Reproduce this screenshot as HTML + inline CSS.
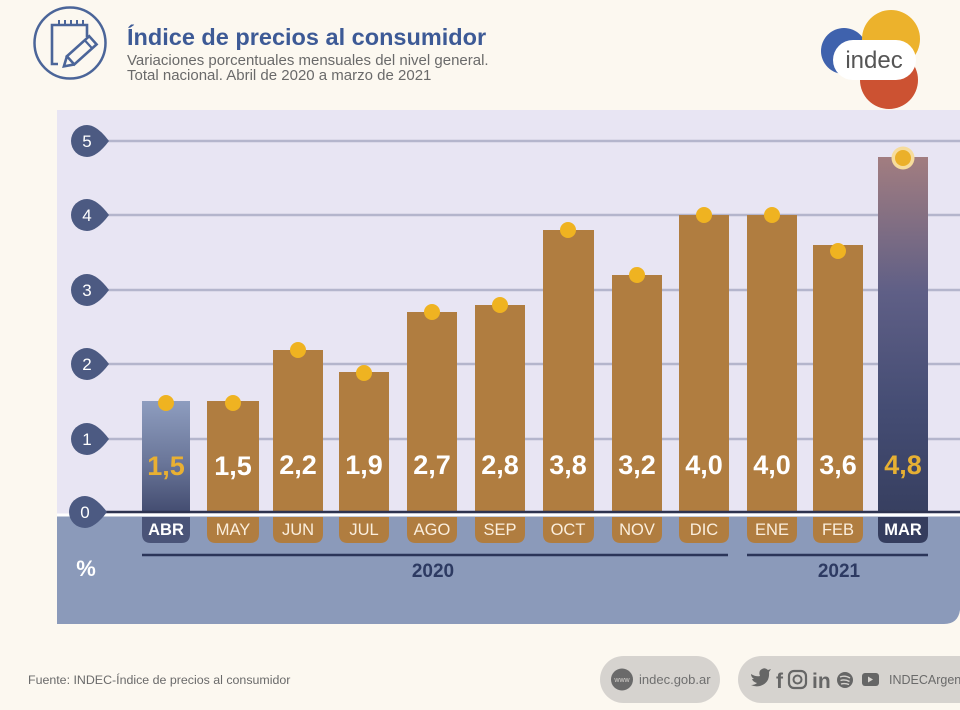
<!DOCTYPE html>
<html><head><meta charset="utf-8">
<style>
html,body{margin:0;padding:0;background:#fcf8f0;}
svg{display:block;}
text{font-family:"Liberation Sans",Arial,sans-serif;}
</style></head>
<body>
<svg width="960" height="710" viewBox="0 0 960 710" xmlns="http://www.w3.org/2000/svg">
<defs>
<linearGradient id="gAbr" x1="0" y1="0" x2="0" y2="1">
<stop offset="0" stop-color="#8e9dbf"/>
<stop offset="0.55" stop-color="#6a7699"/>
<stop offset="1" stop-color="#434c70"/>
</linearGradient>
<linearGradient id="gMar" x1="0" y1="0" x2="0" y2="1">
<stop offset="0" stop-color="#a27d80"/>
<stop offset="0.38" stop-color="#5f5f86"/>
<stop offset="0.7" stop-color="#454d74"/>
<stop offset="1" stop-color="#373f60"/>
</linearGradient>
</defs>
<rect width="960" height="710" fill="#fcf8f0"/>

<!-- header icon -->
<circle cx="70" cy="43" r="35.5" fill="none" stroke="#4b6599" stroke-width="2.5"/>
<path d="M58 64 L52 64 L52 25 L87 25 L87 37" fill="none" stroke="#4b6599" stroke-width="2.6"/>
<g stroke="#4b6599" stroke-width="2">
<line x1="59" y1="20" x2="59" y2="26"/><line x1="65" y1="20" x2="65" y2="26"/><line x1="71" y1="20" x2="71" y2="26"/><line x1="77" y1="20" x2="77" y2="26"/><line x1="83" y1="20" x2="83" y2="26"/>
</g>
<g transform="translate(81,51) rotate(-42)">
<rect x="-14" y="-5.5" width="30" height="11" fill="none" stroke="#4b6599" stroke-width="2.6"/>
<path d="M-14 -5.5 L-23 0 L-14 5.5" fill="none" stroke="#4b6599" stroke-width="2.6"/>
<line x1="10" y1="-5.5" x2="10" y2="5.5" stroke="#4b6599" stroke-width="2.2"/>
</g>

<text x="127" y="45" font-size="23.5" font-weight="bold" fill="#3d5a96">Índice de precios al consumidor</text>
<text x="127" y="65" font-size="15" fill="#6a6a6a">Variaciones porcentuales mensuales del nivel general.</text>
<text x="127" y="80" font-size="15" fill="#6a6a6a">Total nacional. Abril de 2020 a marzo de 2021</text>

<!-- logo -->
<circle cx="844" cy="51" r="23" fill="#3f62ad"/>
<circle cx="891" cy="39" r="29" fill="#ecb22c"/>
<circle cx="889" cy="80" r="29" fill="#cc5232"/>
<rect x="833" y="40" width="83" height="40" rx="20" fill="#ffffff"/>
<text x="874" y="68" font-size="24" fill="#555" text-anchor="middle">indec</text>

<!-- chart panel -->
<rect x="57" y="110" width="903" height="405" fill="#e8e5f3"/>
<path d="M57 515 L960 515 L960 610 Q958 624 944 624 L57 624 Z" fill="#8b9aba"/>

<!-- gridlines -->
<g stroke="#b4b5cc" stroke-width="2.5">
<line x1="105" y1="141" x2="960" y2="141"/>
<line x1="105" y1="215" x2="960" y2="215"/>
<line x1="105" y1="290" x2="960" y2="290"/>
<line x1="105" y1="364" x2="960" y2="364"/>
<line x1="105" y1="439" x2="960" y2="439"/>
</g>

<!-- bars -->
<g fill="#b07d40">
<rect x="142" y="401" width="48" height="112" fill="url(#gAbr)"/>
<rect x="207" y="401" width="52" height="112"/>
<rect x="273" y="350" width="50" height="163"/>
<rect x="339" y="372" width="50" height="141"/>
<rect x="407" y="312" width="50" height="201"/>
<rect x="475" y="305" width="50" height="208"/>
<rect x="543" y="230" width="51" height="283"/>
<rect x="612" y="275" width="50" height="238"/>
<rect x="679" y="215" width="50" height="298"/>
<rect x="747" y="215" width="50" height="298"/>
<rect x="813" y="245" width="50" height="268"/>
<rect x="878" y="157" width="50" height="356" fill="url(#gMar)"/>
</g>

<!-- dots -->
<g fill="#efb321">
<circle cx="166" cy="403" r="8"/>
<circle cx="233" cy="403" r="8"/>
<circle cx="298" cy="350" r="8"/>
<circle cx="364" cy="373" r="8"/>
<circle cx="432" cy="312" r="8"/>
<circle cx="500" cy="305" r="8"/>
<circle cx="568" cy="230" r="8"/>
<circle cx="637" cy="275" r="8"/>
<circle cx="704" cy="215" r="8"/>
<circle cx="772" cy="215" r="8"/>
<circle cx="838" cy="251" r="8"/>
</g>
<circle cx="903" cy="158" r="11.5" fill="#f6dc9c"/>
<circle cx="903" cy="158" r="8" fill="#ebb02a"/>

<!-- value labels -->
<g font-size="27" font-weight="bold" text-anchor="middle" fill="#ffffff">
<text x="166" y="475" fill="#e9b032">1,5</text>
<text x="233" y="475">1,5</text>
<text x="298" y="474">2,2</text>
<text x="364" y="474">1,9</text>
<text x="432" y="474">2,7</text>
<text x="500" y="474">2,8</text>
<text x="568" y="474">3,8</text>
<text x="637" y="474">3,2</text>
<text x="704" y="474">4,0</text>
<text x="772" y="474">4,0</text>
<text x="838" y="474">3,6</text>
<text x="903" y="474" fill="#e6b033">4,8</text>
</g>

<!-- zero line -->
<rect x="57" y="513.5" width="903" height="3" fill="#ffffff"/>
<line x1="100" y1="512" x2="960" y2="512" stroke="#2d3350" stroke-width="2.5"/>

<!-- month pills -->
<g fill="#b07d40">
<path d="M142 517 H190 V534 Q190 543 181 543 H151 Q142 543 142 534 Z" fill="#4a5478"/>
<path d="M207 517 H259 V534 Q259 543 250 543 H216 Q207 543 207 534 Z"/>
<path d="M273 517 H323 V534 Q323 543 314 543 H282 Q273 543 273 534 Z"/>
<path d="M339 517 H389 V534 Q389 543 380 543 H348 Q339 543 339 534 Z"/>
<path d="M407 517 H457 V534 Q457 543 448 543 H416 Q407 543 407 534 Z"/>
<path d="M475 517 H525 V534 Q525 543 516 543 H484 Q475 543 475 534 Z"/>
<path d="M543 517 H594 V534 Q594 543 585 543 H552 Q543 543 543 534 Z"/>
<path d="M612 517 H662 V534 Q662 543 653 543 H621 Q612 543 612 534 Z"/>
<path d="M679 517 H729 V534 Q729 543 720 543 H688 Q679 543 679 534 Z"/>
<path d="M747 517 H797 V534 Q797 543 788 543 H756 Q747 543 747 534 Z"/>
<path d="M813 517 H863 V534 Q863 543 854 543 H822 Q813 543 813 534 Z"/>
<path d="M878 517 H928 V534 Q928 543 919 543 H887 Q878 543 878 534 Z" fill="#353d5e"/>
</g>
<g font-size="16.5" text-anchor="middle" fill="#fbeedc">
<text x="166" y="535" font-weight="bold" fill="#ffffff">ABR</text>
<text x="233" y="535">MAY</text>
<text x="298" y="535">JUN</text>
<text x="364" y="535">JUL</text>
<text x="432" y="535">AGO</text>
<text x="500" y="535">SEP</text>
<text x="568" y="535">OCT</text>
<text x="637" y="535">NOV</text>
<text x="704" y="535">DIC</text>
<text x="772" y="535">ENE</text>
<text x="838" y="535">FEB</text>
<text x="903" y="535" font-weight="bold" fill="#ffffff">MAR</text>
</g>

<!-- year lines -->
<line x1="142" y1="555" x2="728" y2="555" stroke="#2b3559" stroke-width="2.5"/>
<line x1="747" y1="555" x2="928" y2="555" stroke="#2b3559" stroke-width="2.5"/>
<text x="433" y="577" font-size="19" font-weight="bold" fill="#2d3a62" text-anchor="middle">2020</text>
<text x="839" y="577" font-size="19" font-weight="bold" fill="#2d3a62" text-anchor="middle">2021</text>
<text x="86" y="576" font-size="22" font-weight="bold" fill="#ffffff" text-anchor="middle">%</text>

<!-- axis teardrops -->
<g fill="#4c5a82">
<path d="M87 125 A16 16 0 1 0 87 157 Q97 157 109 141 Q97 125 87 125 Z"/>
<path d="M87 199 A16 16 0 1 0 87 231 Q97 231 109 215 Q97 199 87 199 Z"/>
<path d="M87 274 A16 16 0 1 0 87 306 Q97 306 109 290 Q97 274 87 274 Z"/>
<path d="M87 348 A16 16 0 1 0 87 380 Q97 380 109 364 Q97 348 87 348 Z"/>
<path d="M87 423 A16 16 0 1 0 87 455 Q97 455 109 439 Q97 423 87 423 Z"/>
<path d="M85 496 A16 16 0 1 0 85 528 Q95 528 107 512 Q95 496 85 496 Z"/>
</g>
<g font-size="17" fill="#ffffff" text-anchor="middle">
<text x="87" y="147">5</text>
<text x="87" y="221">4</text>
<text x="87" y="296">3</text>
<text x="87" y="370">2</text>
<text x="87" y="445">1</text>
<text x="85" y="518">0</text>
</g>

<!-- footer -->
<text x="28" y="684" font-size="12.4" fill="#6a6a6a">Fuente: INDEC-Índice de precios al consumidor</text>
<rect x="600" y="656" width="120" height="47" rx="23.5" fill="#d6d3cf"/>
<circle cx="622" cy="679.5" r="11" fill="#6a6a6a"/>
<text x="622" y="682" font-size="7" fill="#d6d3cf" text-anchor="middle">www</text>
<text x="639" y="684" font-size="13" fill="#6f6f6f">indec.gob.ar</text>
<rect x="738" y="656" width="260" height="47" rx="23.5" fill="#d6d3cf"/>
<path d="M751 674 Q756 677 760 676 Q758 671 762 669 Q765 667 768 670 L771 669 L769 672 Q770 683 760 686 Q755 687 751 685 Q755 685 757 683 Q753 682 752 679 Q753 679 754 679 Q751 677 751 674 Z" fill="#666"/>
<text x="776" y="688" font-size="21" font-weight="bold" fill="#666">f</text>
<rect x="789" y="671" width="17" height="17" rx="5" fill="none" stroke="#666" stroke-width="2.2"/>
<circle cx="797.5" cy="679.5" r="4" fill="none" stroke="#666" stroke-width="2"/>
<text x="812" y="688" font-size="21" font-weight="bold" fill="#666">in</text>
<circle cx="845" cy="680" r="8" fill="#666"/>
<path d="M840 677 Q845 675 850 678 M840.5 680.5 Q845 679 849.5 681.5 M841 684 Q845 683 849 684.5" stroke="#d6d3cf" stroke-width="1.4" fill="none"/>
<rect x="862" y="673" width="17" height="13" rx="3" fill="#666"/>
<path d="M868 676.5 L868 682.5 L873 679.5 Z" fill="#d6d3cf"/>
<text x="889" y="684" font-size="12.5" fill="#6a6a6a">INDECArgentina</text>
</svg>
</body></html>
